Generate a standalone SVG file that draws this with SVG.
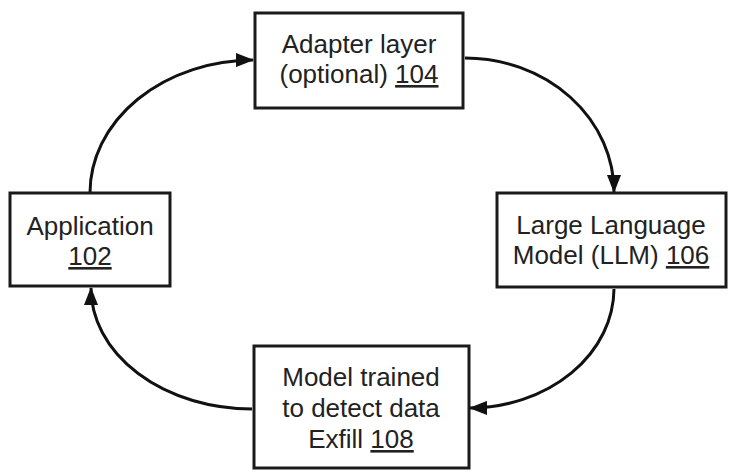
<svg xmlns="http://www.w3.org/2000/svg" width="735" height="472" viewBox="0 0 735 472">
<style>
.box{fill:#fff;stroke:#1a1a1a;stroke-width:3}
.t{font-family:"Liberation Sans",Arial,sans-serif;font-size:26px;fill:#222;text-anchor:middle}
.u{text-decoration:underline}
.c{fill:none;stroke:#111;stroke-width:3;marker-end:url(#ah)}
</style>
<defs>
<marker id="ah" viewBox="0 0 18 14" refX="17" refY="7" markerWidth="18" markerHeight="14" markerUnits="userSpaceOnUse" orient="auto">
<path d="M0,0 L18,7 L0,14 z" fill="#111"/>
</marker>
</defs>
<rect width="735" height="472" fill="#fff"/>
<g id="connectors">
<path class="c" d="M90,193 A164 133 0 0 1 253,60"/>
<path class="c" d="M465,58 A149 134 0 0 1 614,192"/>
<path class="c" d="M614,289 A145 120 0 0 1 470,408"/>
<path class="c" d="M252,409 A161 121 0 0 1 91,288"/>
</g>
<g id="n104">
<rect class="box" x="255" y="13" width="208" height="95"/>
<text class="t" x="359" y="53">Adapter layer</text>
<text class="t" x="359" y="83">(optional) <tspan class="u">104</tspan></text>
</g>
<g id="n102">
<rect class="box" x="10" y="193" width="160" height="93"/>
<text class="t" x="90" y="235">Application</text>
<text class="t" x="90" y="265"><tspan class="u">102</tspan></text>
</g>
<g id="n106">
<rect class="box" x="497" y="193" width="229" height="94"/>
<text class="t" x="611" y="234">Large Language</text>
<text class="t" x="611" y="264">Model (LLM) <tspan class="u">106</tspan></text>
</g>
<g id="n108">
<rect class="box" x="254" y="346" width="215" height="122"/>
<text class="t" x="361" y="386">Model trained</text>
<text class="t" x="361" y="417">to detect data</text>
<text class="t" x="361" y="448">Exfill <tspan class="u">108</tspan></text>
</g>
</svg>
